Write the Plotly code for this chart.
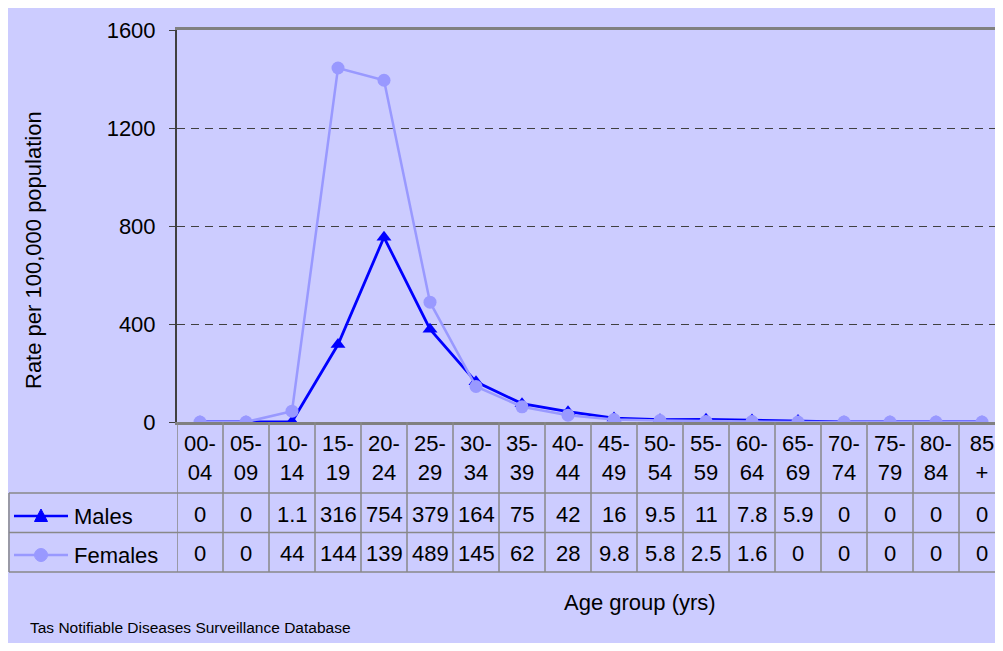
import plotly.graph_objects as go

# --- data ---
age_groups = ["00-04", "05-09", "10-14", "15-19", "20-24", "25-29", "30-34", "35-39",
              "40-44", "45-49", "50-54", "55-59", "60-64", "65-69", "70-74", "75-79",
              "80-84", "85+"]
males = [0, 0, 1.1, 316, 754, 379, 164, 75, 42, 16, 9.5, 11, 7.8, 5.9, 0, 0, 0, 0]
females = [0, 0, 44, 1445, 1395, 489, 145, 62, 28, 9.8, 5.8, 2.5, 1.6, 0, 0, 0, 0, 0]
y_ticks = [0, 400, 800, 1200, 1600]

# --- look ---
BG = "#CCCCFF"
MALE_COL = "#0000FF"
FEMALE_COL = "#9999FF"
RULE = "#888888"
FONT = "Liberation Sans, Arial, sans-serif"

OFF = 8            # page body margin
W, H = 1003 - 2 * OFF, 651 - 2 * OFF   # keep inside the page body
L, T = 177 - OFF, 30 - OFF
PLOT_H = 392
PLOT_W = W - L
COL_W = 46.0


def px_x(p):  # page pixel x -> paper x
    return (p - OFF - L) / PLOT_W


def px_y(p):  # page pixel y -> paper y
    return (T + PLOT_H - (p - OFF)) / PLOT_H


def cell(v):
    s = str(int(v)) if float(v).is_integer() else str(v)
    return s[:3]  # cell is narrow, longer numbers get clipped like in the original


def two_line(a):
    if a.endswith("+"):
        return a[:-1] + "<br>+"
    head, tail = a.split("-")
    return head + "-<br>" + tail


xs = list(range(len(age_groups)))

fig = go.Figure()

fig.add_trace(go.Scatter(
    x=xs, y=males, mode="lines+markers", name="Males",
    line=dict(color=MALE_COL, width=2.8),
    marker=dict(symbol="triangle-up", size=13, color=MALE_COL),
))
fig.add_trace(go.Scatter(
    x=xs, y=females, mode="lines+markers", name="Females",
    line=dict(color=FEMALE_COL, width=2.5),
    marker=dict(symbol="circle", size=13, color=FEMALE_COL),
))

shapes = []
# table rules
for yy in [493, 532.5, 572]:
    shapes.append(dict(type="line", xref="paper", yref="paper", x0=px_x(9), x1=1,
                       y0=px_y(yy), y1=px_y(yy), line=dict(color=RULE, width=1.5)))
shapes.append(dict(type="line", xref="paper", yref="paper", x0=px_x(9), x1=px_x(9),
                   y0=px_y(493), y1=px_y(572), line=dict(color=RULE, width=1.5)))
for i in range(len(age_groups) + 1):
    shapes.append(dict(type="line", xref="x", yref="paper", x0=i - 0.5, x1=i - 0.5,
                       y0=0, y1=px_y(572), line=dict(color=RULE, width=1.5)))

annotations = []
rows = [("Males", males, MALE_COL, 514), ("Females", females, FEMALE_COL, 553)]
for name, vals, col, yy in rows:
    for i, v in enumerate(vals):
        annotations.append(dict(x=i, y=px_y(yy), xref="x", yref="paper", text=cell(v),
                                xanchor="center", yanchor="middle", showarrow=False))
    annotations.append(dict(x=px_x(72), y=px_y(yy + 2), xref="paper", yref="paper", text=name,
                            xanchor="left", yanchor="middle", showarrow=False))
    shapes.append(dict(type="line", xref="paper", yref="paper", x0=px_x(14), x1=px_x(68),
                       y0=px_y(yy + 2), y1=px_y(yy + 2), line=dict(color=col, width=2.5)))

# legend sample markers (triangle and circle) drawn as shapes
mx = 41
ty = 516
shapes.append(dict(type="path", xref="paper", yref="paper",
                   path="M {a} {b} L {c} {d} L {e} {f} Z".format(
                       a=px_x(mx - 6.5), b=px_y(ty + 5.5), c=px_x(mx + 6.5), d=px_y(ty + 5.5),
                       e=px_x(mx), f=px_y(ty - 7)),
                   fillcolor=MALE_COL, line=dict(color=MALE_COL, width=1)))
cy = 555
shapes.append(dict(type="circle", xref="paper", yref="paper",
                   x0=px_x(mx - 6.5), x1=px_x(mx + 6.5), y0=px_y(cy + 6.5), y1=px_y(cy - 6.5),
                   fillcolor=FEMALE_COL, line=dict(color=FEMALE_COL, width=1)))

annotations.append(dict(x=px_x(33), y=px_y(250), xref="paper", yref="paper",
                        text="Rate per 100,000 population", textangle=-90,
                        xanchor="center", yanchor="middle", showarrow=False))
annotations.append(dict(x=px_x(640), y=px_y(602), xref="paper", yref="paper",
                        text="Age group (yrs)", xanchor="center", yanchor="middle",
                        showarrow=False))
annotations.append(dict(x=px_x(28), y=px_y(627), xref="paper", yref="paper",
                        xanchor="left", yanchor="middle",
                        text="Tas Notifiable Diseases Surveillance Database", showarrow=False,
                        font=dict(size=15.5)))

fig.update_layout(
    width=W, height=H,
    margin=dict(l=L, r=0, t=T, b=H - T - PLOT_H, pad=0),
    paper_bgcolor=BG, plot_bgcolor=BG,
    font=dict(family=FONT, size=22, color="black"),
    showlegend=False,
    shapes=shapes, annotations=annotations,
    xaxis=dict(range=[-0.5, -0.5 + PLOT_W / COL_W], tickvals=xs,
               ticktext=[two_line(a) for a in age_groups], ticks="",
               showgrid=False, zeroline=False, showline=True, linecolor="#808080",
               linewidth=2.5, mirror=True, tickfont=dict(size=22)),
    yaxis=dict(range=[0, 1600], tickvals=y_ticks, ticks="outside", ticklen=6,
               tickcolor="#404040", showgrid=True, gridcolor="#404040", gridwidth=1,
               griddash="8px,6px", zeroline=False, showline=True, linecolor="#404040",
               linewidth=2, tickfont=dict(size=22), ticklabelstandoff=9),
)

fig.write_html("out.html")
